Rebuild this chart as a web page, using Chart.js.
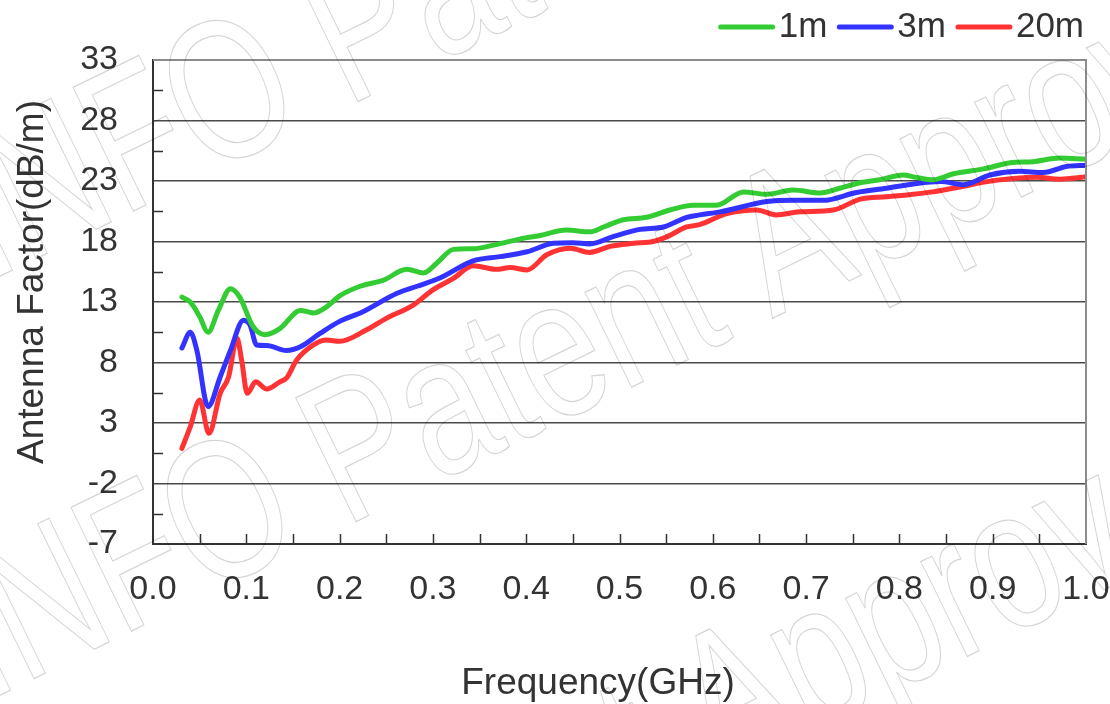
<!DOCTYPE html>
<html>
<head>
<meta charset="utf-8">
<title>Antenna Factor</title>
<script src="https://cdn.jsdelivr.net/npm/chart.js@4.4.1/dist/chart.umd.min.js"></script>
<style>
    html, body { margin: 0; padding: 0; background: #fff; }
    #wrap { width: 1110px; height: 704px; position: relative; }
</style>
</head>
<body>
<div id="wrap"><canvas id="af-chart"></canvas></div>
<script>
// ============================================================================
// DATA
// ============================================================================

const freq1m = [0.031, 0.040, 0.050, 0.059, 0.070, 0.083, 0.093, 0.107, 0.120, 0.136,
    0.158, 0.172, 0.186, 0.200, 0.222, 0.247, 0.272, 0.290, 0.304, 0.322,
    0.343, 0.365, 0.393, 0.415, 0.443, 0.468, 0.483, 0.504, 0.529, 0.554,
    0.579, 0.604, 0.633, 0.658, 0.686, 0.715, 0.736, 0.758, 0.779, 0.804,
    0.818, 0.836, 0.858, 0.890, 0.919, 0.943, 0.972, 1.000];
const af1m = [13.4, 13.0, 11.8, 10.5, 12.3, 14.1, 13.4, 11.0, 10.3, 10.8,
    12.3, 12.1, 12.6, 13.5, 14.3, 14.8, 15.7, 15.4, 16.2, 17.35,
    17.4, 17.7, 18.2, 18.5, 18.95, 18.8, 19.2, 19.8, 20.0, 20.6,
    21.0, 21.0, 22.1, 21.9, 22.25, 22.0, 22.4, 22.85, 23.1, 23.5,
    23.3, 23.1, 23.6, 24.0, 24.5, 24.6, 24.9, 24.8];

const freq3m = [0.031, 0.040, 0.047, 0.059, 0.072, 0.083, 0.097, 0.104, 0.111, 0.122,
    0.143, 0.158, 0.179, 0.200, 0.225, 0.261, 0.283, 0.308, 0.343, 0.372,
    0.401, 0.429, 0.450, 0.468, 0.493, 0.522, 0.547, 0.572, 0.586, 0.608,
    0.658, 0.686, 0.718, 0.754, 0.786, 0.815, 0.844, 0.869, 0.897, 0.929,
    0.954, 0.979, 1.000];
const af3m = [9.2, 10.5, 9.0, 4.35, 6.8, 9.0, 11.5, 11.1, 9.45, 9.4,
    9.0, 9.3, 10.4, 11.4, 12.2, 13.7, 14.3, 15.0, 16.4, 16.75,
    17.15, 17.85, 17.9, 17.8, 18.4, 19.0, 19.2, 20.0, 20.2, 20.45,
    21.3, 21.4, 21.4, 22.05, 22.4, 22.75, 22.95, 22.7, 23.5, 23.8,
    23.7, 24.2, 24.3];

const freq20m = [0.031, 0.040, 0.050, 0.060, 0.072, 0.081, 0.090, 0.095, 0.101, 0.110,
    0.122, 0.136, 0.143, 0.154, 0.172, 0.186, 0.200, 0.229, 0.250, 0.279,
    0.300, 0.322, 0.343, 0.368, 0.383, 0.401, 0.422, 0.447, 0.468, 0.490,
    0.515, 0.536, 0.551, 0.572, 0.586, 0.615, 0.647, 0.668, 0.693, 0.729,
    0.758, 0.786, 0.808, 0.836, 0.865, 0.894, 0.922, 0.947, 0.972, 1.000];
const af20m = [0.9, 2.7, 4.9, 2.15, 5.45, 6.8, 10.0, 8.2, 5.45, 6.4,
    5.8, 6.4, 6.7, 8.2, 9.45, 9.85, 9.75, 10.7, 11.65, 12.75,
    14.0, 14.95, 16.0, 15.7, 15.85, 15.65, 16.9, 17.45, 17.1, 17.6,
    17.85, 18.0, 18.4, 19.2, 19.4, 20.3, 20.6, 20.2, 20.45, 20.6,
    21.5, 21.7, 21.85, 22.1, 22.5, 22.95, 23.2, 23.3, 23.15, 23.35];

const seriesLabels = ['1m', '3m', '20m'];
const seriesColors = ['#33cc33', '#3333ff', '#ff3333'];

const xTitle = 'Frequency(GHz)';
const yTitle = 'Antenna Factor(dB/m)';
const watermark = 'INFO Patent Approval';

// ============================================================================
// STYLE
// ============================================================================

const FONT = '"Liberation Sans", Arial, sans-serif';
const TEXT_COLOR = '#333';

/**
 * Frame, inward ticks, axis titles, legend and watermark
 */
const decorPlugin = {
    id: 'decor',
    afterDraw(chart) {
        const { ctx, chartArea: area, scales: { x, y } } = chart;
        ctx.save();

        // top + right border of the plot box
        ctx.strokeStyle = '#8c8c8c';
        ctx.lineWidth = 2;
        ctx.beginPath();
        ctx.moveTo(area.left, area.top);
        ctx.lineTo(area.right, area.top);
        ctx.lineTo(area.right, area.bottom);
        ctx.stroke();

        // inward tick marks (major + minor)
        ctx.strokeStyle = '#333';
        ctx.lineWidth = 1.5;
        ctx.beginPath();
        for (let v = 0.05; v < 0.99; v += 0.05) {
            const px = Math.round(x.getPixelForValue(v)) + 0.5;
            ctx.moveTo(px, area.bottom);
            ctx.lineTo(px, area.bottom - 10);
        }
        for (let v = -4.5; v < 33; v += 5) {
            const py = Math.round(y.getPixelForValue(v)) + 0.5;
            ctx.moveTo(area.left, py);
            ctx.lineTo(area.left + 10, py);
        }
        ctx.stroke();

        // axis titles
        ctx.fillStyle = TEXT_COLOR;
        ctx.font = `37px ${FONT}`;
        ctx.textAlign = 'center';
        ctx.textBaseline = 'alphabetic';
        ctx.fillText(xTitle, 598, 694);
        ctx.save();
        ctx.translate(43, 282);
        ctx.rotate(-Math.PI / 2);
        ctx.fillText(yTitle, 0, 0);
        ctx.restore();

        // legend, laid out right to left
        ctx.font = `35px ${FONT}`;
        ctx.textAlign = 'left';
        ctx.textBaseline = 'middle';
        ctx.lineCap = 'round';
        ctx.lineWidth = 5;
        let lx = 1084;
        for (let i = seriesLabels.length - 1; i >= 0; i--) {
            const w = ctx.measureText(seriesLabels[i]).width;
            const tx = lx - w;
            ctx.fillStyle = TEXT_COLOR;
            ctx.fillText(seriesLabels[i], tx, 27);
            ctx.strokeStyle = seriesColors[i];
            ctx.beginPath();
            ctx.moveTo(tx - 58, 27);
            ctx.lineTo(tx - 6, 27);
            ctx.stroke();
            lx = tx - 70;
        }

        // outlined watermark
        ctx.strokeStyle = 'rgba(0, 0, 0, 0.17)';
        ctx.lineWidth = 1.3;
        ctx.lineCap = 'butt';
        ctx.font = `200px ${FONT}`;
        ctx.textAlign = 'left';
        ctx.textBaseline = 'alphabetic';
        [[347, 107, 'INFO '], [345, 527, 'INFO '], [718, 778, 'INFO Patent ']].forEach(([ax, ay, prefix]) => {
            ctx.save();
            ctx.translate(ax, ay);
            ctx.rotate(-26 * Math.PI / 180);
            ctx.scale(0.75, 1);
            const off = ctx.measureText(prefix).width;
            ctx.strokeText(watermark, -off, 0);
            ctx.restore();
        });

        ctx.restore();
    }
};

// ============================================================================
// CHART
// ============================================================================

function toPoints(xs, ys) {
    return xs.map((f, i) => ({ x: f, y: ys[i] }));
}

const seriesData = [toPoints(freq1m, af1m), toPoints(freq3m, af3m), toPoints(freq20m, af20m)];

const ctx = document.getElementById('af-chart').getContext('2d');
new Chart(ctx, {
    type: 'line',
    data: {
        datasets: seriesLabels.map((label, i) => ({
            label,
            data: seriesData[i],
            borderColor: seriesColors[i],
            backgroundColor: seriesColors[i],
            borderWidth: 5,
            borderCapStyle: 'round',
            borderJoinStyle: 'round',
            pointRadius: 0,
            fill: false,
            cubicInterpolationMode: 'monotone'
        }))
    },
    options: {
        responsive: true,
        maintainAspectRatio: false,
        animation: false,
        layout: { padding: { top: 60, right: 0, left: 0, bottom: 0 } },
        scales: {
            x: {
                type: 'linear',
                min: 0,
                max: 1,
                afterFit: (s) => {
                    s.height = 160;
                    s.paddingRight = 24;   // keep the "1.0" overhang only
                },
                ticks: {
                    stepSize: 0.1,
                    autoSkip: false,
                    maxRotation: 0,
                    padding: 25,
                    color: TEXT_COLOR,
                    font: { family: FONT, size: 34 },
                    callback: (v) => v.toFixed(1)
                },
                grid: { display: false, drawTicks: false },
                border: { display: true, color: '#333', width: 2 }
            },
            y: {
                min: -7,
                max: 33,
                afterFit: (s) => { s.width = 153; },
                ticks: {
                    stepSize: 5,
                    padding: 35,
                    color: TEXT_COLOR,
                    font: { family: FONT, size: 34 }
                },
                grid: {
                    drawTicks: false,
                    color: (c) => (c.tick && c.tick.value === 33 ? '#8c8c8c' : '#4a4a4a'),
                    lineWidth: 1.5
                },
                border: { color: '#333', width: 2 }
            }
        },
        plugins: {
            legend: { display: false },
            tooltip: { enabled: false }
        }
    },
    plugins: [decorPlugin]
});
</script>
</body>
</html>
